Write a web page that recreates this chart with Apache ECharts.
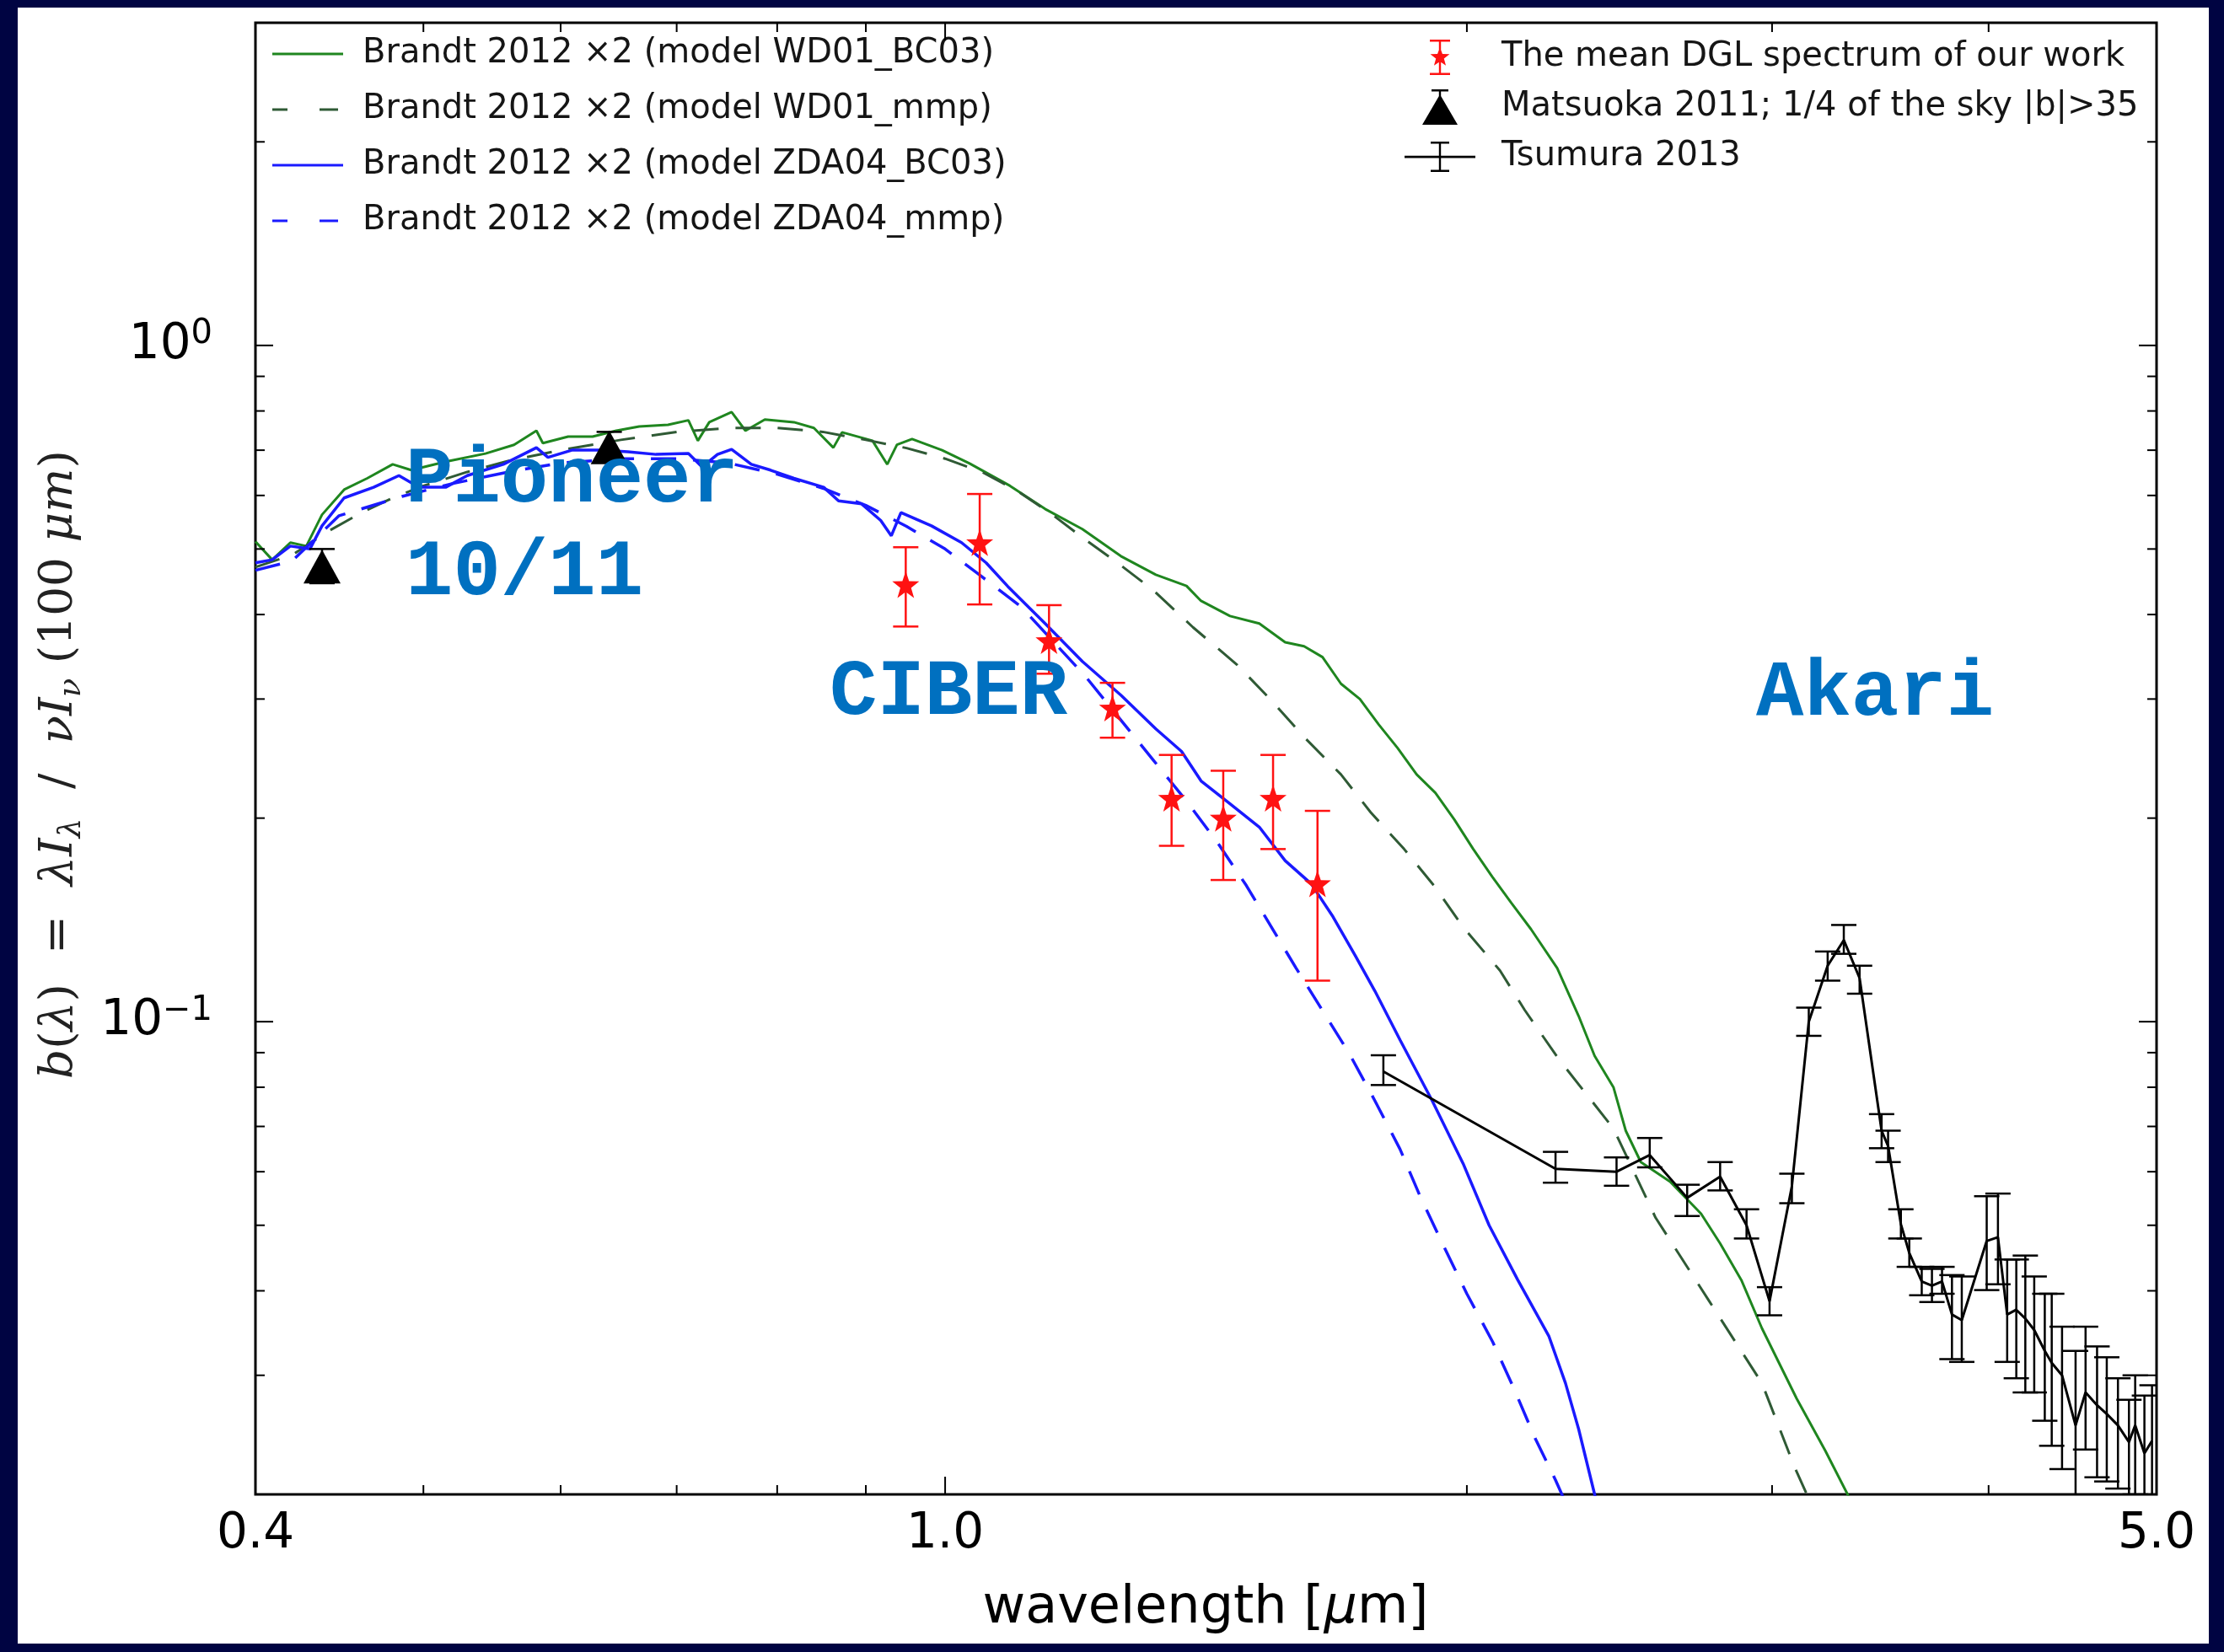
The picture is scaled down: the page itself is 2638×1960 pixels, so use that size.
<!DOCTYPE html>
<html>
<head>
<meta charset="utf-8">
<script src="https://cdn.jsdelivr.net/npm/echarts@6/dist/echarts.min.js"></script>
<style>
  html, body { margin: 0; padding: 0; background: #000442; }
  #paper { position: absolute; left: 21px; top: 9px; width: 2599px; height: 1941px; background: #ffffff; }
  #chart { position: absolute; left: 0; top: 0; width: 2638px; height: 1960px; }
</style>
</head>
<body>
<div id="paper"></div>
<div id="chart"></div>
<script>
// ---- Model spectra, Brandt 2012 x2 (wavelength in micron, b(lambda)) ----
const wd01Bc03Wave = [0.400,0.409,0.419,0.428,0.437,0.450,0.464,0.480,0.492,0.515,0.543,0.564,0.581,0.586,0.606,0.626,0.646,0.666,0.692,0.711,0.720,0.731,0.753,0.767,0.787,0.818,0.840,0.862,0.872,0.908,0.926,0.938,0.957,0.996,1.033,1.090,1.142,1.200,1.263,1.323,1.378,1.405,1.460,1.518,1.571,1.611,1.651,1.692,1.735,1.779,1.824,1.871,1.918,1.967,2.017,2.068,2.121,2.178,2.255,2.320,2.370,2.430,2.470,2.520,2.620,2.730,2.800,2.880,2.960,3.100,3.220,3.320,3.400];
const wd01Bc03Val  = [0.513,0.482,0.511,0.505,0.562,0.612,0.636,0.667,0.654,0.673,0.692,0.713,0.748,0.717,0.733,0.733,0.748,0.759,0.763,0.775,0.723,0.770,0.797,0.748,0.777,0.770,0.755,0.706,0.744,0.723,0.667,0.713,0.727,0.700,0.669,0.620,0.573,0.535,0.488,0.458,0.441,0.419,0.398,0.388,0.364,0.359,0.346,0.316,0.300,0.275,0.254,0.232,0.218,0.199,0.180,0.164,0.150,0.137,0.120,0.102,0.089,0.080,0.069,0.062,0.058,0.052,0.047,0.0415,0.0352,0.0277,0.0232,0.0199,0.0175];

const wd01MmpWave = [0.400,0.420,0.440,0.460,0.480,0.500,0.530,0.560,0.600,0.650,0.700,0.750,0.800,0.850,0.900,0.950,1.000,1.050,1.100,1.150,1.200,1.260,1.318,1.390,1.474,1.540,1.610,1.692,1.760,1.840,1.918,1.990,2.090,2.160,2.260,2.430,2.570,2.760,2.960,3.090,3.200];
const wd01MmpVal  = [0.470,0.490,0.530,0.565,0.595,0.620,0.650,0.675,0.700,0.725,0.745,0.755,0.755,0.745,0.725,0.705,0.680,0.650,0.610,0.565,0.520,0.475,0.435,0.383,0.337,0.300,0.264,0.232,0.204,0.180,0.158,0.138,0.119,0.104,0.088,0.0695,0.0513,0.0386,0.0292,0.0220,0.0180];

const zda04Bc03Wave = [0.400,0.409,0.419,0.430,0.437,0.450,0.468,0.484,0.497,0.515,0.530,0.556,0.581,0.590,0.609,0.632,0.656,0.681,0.711,0.724,0.739,0.753,0.773,0.793,0.818,0.851,0.868,0.895,0.918,0.931,0.943,0.982,1.022,1.056,1.087,1.142,1.200,1.263,1.323,1.369,1.405,1.460,1.518,1.571,1.626,1.674,1.725,1.770,1.830,1.910,1.990,2.060,2.140,2.230,2.280,2.320,2.370,2.400];
const zda04Bc03Val  = [0.477,0.482,0.505,0.500,0.541,0.595,0.617,0.642,0.617,0.617,0.642,0.667,0.706,0.683,0.700,0.700,0.696,0.690,0.692,0.661,0.690,0.702,0.667,0.654,0.636,0.617,0.589,0.583,0.551,0.523,0.566,0.541,0.511,0.477,0.440,0.388,0.341,0.304,0.271,0.251,0.227,0.210,0.194,0.173,0.160,0.143,0.125,0.111,0.094,0.0764,0.0617,0.0500,0.0415,0.0343,0.0292,0.0250,0.0200,0.0180];

const zda04MmpWave = [0.400,0.420,0.447,0.486,0.520,0.560,0.600,0.650,0.700,0.750,0.800,0.850,0.900,0.950,1.000,1.050,1.107,1.205,1.318,1.378,1.436,1.492,1.548,1.594,1.710,1.770,1.830,1.880,1.940,2.000,2.070,2.130,2.190,2.250,2.300];
const zda04MmpVal  = [0.465,0.480,0.560,0.598,0.625,0.650,0.670,0.680,0.680,0.670,0.645,0.615,0.580,0.540,0.500,0.455,0.410,0.324,0.244,0.212,0.184,0.159,0.136,0.120,0.0899,0.0764,0.0648,0.0551,0.0465,0.0396,0.0336,0.0286,0.0242,0.0210,0.0185];

// ---- Measurements ----
// Mean DGL spectrum (this work)
const dglWave = [0.949, 1.047, 1.148, 1.249, 1.351, 1.447, 1.546, 1.640];
const dglVal  = [0.443, 0.511, 0.366, 0.291, 0.214, 0.200, 0.214, 0.160];
const dglLow  = [0.384, 0.414, 0.327, 0.263, 0.182, 0.162, 0.180, 0.115];
const dglHigh = [0.503, 0.603, 0.413, 0.317, 0.248, 0.235, 0.248, 0.205];

// Matsuoka 2011, Pioneer 10/11
const matsuokaWave = [0.437, 0.640];
const matsuokaVal  = [0.471, 0.707];
const matsuokaLow  = [0.445, 0.672];
const matsuokaHigh = [0.500, 0.745];

// Tsumura 2013, AKARI
const tsumuraWave = [1.79,2.25,2.44,2.55,2.68,2.80,2.90,2.99,3.08,3.15,3.23,3.30,3.37,3.47,3.50,3.56,3.60,3.66,3.71,3.76,3.81,3.86,3.99,4.05,4.10,4.15,4.20,4.25,4.31,4.35,4.41,4.49,4.55,4.62,4.68,4.75,4.82,4.86,4.92,4.97];
const tsumuraVal  = [0.0844,0.0606,0.0600,0.0635,0.0549,0.0590,0.0500,0.0386,0.0571,0.1000,0.121,0.132,0.116,0.0690,0.0655,0.0502,0.0455,0.0413,0.0407,0.0413,0.0369,0.0362,0.0474,0.0480,0.0369,0.0375,0.0364,0.0350,0.0326,0.0313,0.0300,0.0253,0.0283,0.0271,0.0263,0.0253,0.0239,0.0253,0.0230,0.0240];
const tsumuraLow  = [0.0806,0.0578,0.0572,0.0609,0.0516,0.0563,0.0478,0.0368,0.0539,0.0953,0.115,0.126,0.110,0.0650,0.0620,0.0478,0.0434,0.0394,0.0385,0.0396,0.0317,0.0314,0.0401,0.0409,0.0314,0.0297,0.0283,0.0283,0.0257,0.0236,0.0218,0.0198,0.0233,0.0212,0.0209,0.0204,0.0190,0.0200,0.0180,0.0190];
const tsumuraHigh = [0.0892,0.0642,0.0630,0.0673,0.0574,0.0620,0.0528,0.0405,0.0596,0.1049,0.127,0.139,0.121,0.0730,0.0690,0.0528,0.0478,0.0434,0.0431,0.0434,0.0422,0.0420,0.0552,0.0557,0.0445,0.0445,0.0451,0.0420,0.0396,0.0396,0.0354,0.0326,0.0354,0.0331,0.0319,0.0297,0.0276,0.0300,0.0280,0.0290];

// ---- Axes ----
const xRange = [0.4, 5.0];
const yRange = [0.02, 3.0];
const xMajorTicks = [0.4, 1.0, 5.0];
const xTickLabels = ['0.4', '1.0', '5.0'];
const xMinorTicks = [0.5, 0.6, 0.7, 0.8, 0.9, 2, 3, 4];
const yMajorTicks = [0.1, 1];
const yTickExponents = ['\u22121', '0'];
const yMinorTicks = [0.02,0.03,0.04,0.05,0.06,0.07,0.08,0.09,0.2,0.3,0.4,0.5,0.6,0.7,0.8,0.9,2,3];

// ---- Names ----
const NAME_WD_BC = 'Brandt 2012 \u00d72 (model WD01_BC03)';
const NAME_WD_MMP = 'Brandt 2012 \u00d72 (model WD01_mmp)';
const NAME_ZDA_BC = 'Brandt 2012 \u00d72 (model ZDA04_BC03)';
const NAME_ZDA_MMP = 'Brandt 2012 \u00d72 (model ZDA04_mmp)';
const NAME_DGL = 'The mean DGL spectrum of our work';
const NAME_MAT = 'Matsuoka 2011; 1/4 of the sky |b|>35';
const NAME_TSU = 'Tsumura 2013';

const zip = (a, b) => a.slice(0, Math.min(a.length, b.length)).map((v, i) => [v, b[i]]);
const zip4 = (a, b, c, d) => a.map((v, i) => [v, b[i], c[i], d[i]]);

// ---- Shapes ----
function starPath(cx, cy, R, r) {
  let s = '';
  for (let k = 0; k < 10; k++) {
    const ang = -Math.PI / 2 + k * Math.PI / 5;
    const rad = k % 2 === 0 ? R : r;
    const x = (cx + rad * Math.cos(ang)).toFixed(2);
    const y = (cy + rad * Math.sin(ang)).toFixed(2);
    s += (k === 0 ? 'M' : 'L') + x + ' ' + y;
  }
  return s + 'Z';
}
const rectPath = (x1, y1, x2, y2) => `M${x1} ${y1}L${x2} ${y1}L${x2} ${y2}L${x1} ${y2}Z`;

// legend keys for the model curves (84 x 20 box)
const lineBox = 'M0 0M84 20';
const solidKey = 'path://' + lineBox + rectPath(0, 8.5, 84, 11.5);
const dashKey = 'path://' + lineBox + rectPath(0, 8.5, 18, 11.5) + rectPath(56, 8.5, 78, 11.5);

// legend keys for the measurements (110 x 44 box)
const iconBox = 'M0 0M110 44';
const dglIcon = 'path://' + iconBox + rectPath(40.8, 2, 43.2, 42) + rectPath(30, 1, 54, 3.4) + rectPath(30, 40.6, 54, 43) + starPath(42, 22, 12, 5);
const matIcon = 'path://' + iconBox + rectPath(32, 1, 52, 3.4) + rectPath(40.8, 2, 43.2, 9) + 'M42 7L63 43L21 43Z';
const tsuIcon = 'path://' + iconBox + rectPath(0, 20.8, 84, 23.4) + rectPath(40.8, 5, 43.2, 39) + rectPath(31, 4, 53, 6.4) + rectPath(31, 37.6, 53, 40);
const starSymbol = 'path://' + starPath(0, 0, 10, 4);

// Error bars: vertical segment with caps, mapped through the axes
function errorBars(color, capHalf, width) {
  return function (params, api) {
    const x = api.value(0);
    const pLo = api.coord([x, api.value(2)]);
    const pHi = api.coord([x, api.value(3)]);
    const st = { stroke: color, lineWidth: width };
    return {
      type: 'group',
      children: [
        { type: 'line', shape: { x1: pLo[0], y1: pLo[1], x2: pHi[0], y2: pHi[1] }, style: st },
        { type: 'line', shape: { x1: pLo[0] - capHalf, y1: pLo[1], x2: pLo[0] + capHalf, y2: pLo[1] }, style: st },
        { type: 'line', shape: { x1: pHi[0] - capHalf, y1: pHi[1], x2: pHi[0] + capHalf, y2: pHi[1] }, style: st }
      ]
    };
  };
}

// Inward ticks on all four sides plus tick labels
const MAJOR = 21, MINOR = 11;
function frameTicks(params, api) {
  const children = [];
  const pBL = api.coord([xRange[0], yRange[0]]);
  const pTR = api.coord([xRange[1], yRange[1]]);
  const xL = pBL[0], yB = pBL[1], xR = pTR[0], yT = pTR[1];
  const seg = (x1, y1, x2, y2) => ({ type: 'line', shape: { x1, y1, x2, y2 }, style: { stroke: '#000', lineWidth: 2 } });
  const xt = (v, len) => { const x = api.coord([v, yRange[0]])[0]; children.push(seg(x, yB, x, yB - len), seg(x, yT, x, yT + len)); };
  const yt = (v, len) => { const y = api.coord([xRange[0], v])[1]; children.push(seg(xL, y, xL + len, y), seg(xR, y, xR - len, y)); };
  xMajorTicks.forEach(v => xt(v, MAJOR));
  xMinorTicks.forEach(v => xt(v, MINOR));
  yMajorTicks.forEach(v => yt(v, MAJOR));
  yMinorTicks.forEach(v => yt(v, MINOR));
  xMajorTicks.forEach((v, i) => {
    const x = api.coord([v, yRange[0]])[0];
    children.push({ type: 'text', x: x, y: yB + 48, style: {
      text: xTickLabels[i], fontSize: 58, fontFamily: 'DejaVu Sans', fill: '#000',
      align: 'center', verticalAlign: 'middle' } });
  });
  yMajorTicks.forEach((v, i) => {
    const y = api.coord([xRange[0], v])[1];
    children.push({ type: 'text', x: xL - 51, y: y, style: {
      text: '{b|10}{s|' + yTickExponents[i] + '}',
      rich: {
        b: { fontSize: 58, fontFamily: 'DejaVu Sans', fill: '#000', lineHeight: 66 },
        s: { fontSize: 40, fontFamily: 'DejaVu Sans', fill: '#000', lineHeight: 40, verticalAlign: 'top' }
      },
      align: 'right', verticalAlign: 'middle' } });
  });
  return { type: 'group', children };
}

const GREEN = '#1f861f', GREEN_DASH = '#2f5a35', BLUE = '#1a1aff', RED = '#ff1212';
const DASH = [30, 20];

const option = {
  animation: false,
  backgroundColor: 'transparent',
  grid: { left: 303, right: 80, top: 27, bottom: 187, show: true, borderColor: '#000', borderWidth: 3, backgroundColor: 'transparent' },
  xAxis: { type: 'log', logBase: 10, min: xRange[0], max: xRange[1],
    axisLine: { show: false }, axisTick: { show: false }, axisLabel: { show: false }, splitLine: { show: false } },
  yAxis: { type: 'log', logBase: 10, min: yRange[0], max: yRange[1],
    axisLine: { show: false }, axisTick: { show: false }, axisLabel: { show: false }, splitLine: { show: false } },
  legend: [
    {
      data: [
        { name: NAME_WD_BC, icon: solidKey },
        { name: NAME_WD_MMP, icon: dashKey },
        { name: NAME_ZDA_BC, icon: solidKey },
        { name: NAME_ZDA_MMP, icon: dashKey }
      ],
      orient: 'vertical', left: 318, top: 39, itemWidth: 84, itemHeight: 20, itemGap: 26,
      selectedMode: false,
      itemStyle: { borderWidth: 0 },
      textStyle: { fontSize: 40, fontFamily: 'DejaVu Sans', color: '#151515', lineHeight: 40, padding: [0, 0, 0, 18] }
    },
    {
      data: [
        { name: NAME_DGL, icon: dglIcon },
        { name: NAME_MAT, icon: matIcon },
        { name: NAME_TSU, icon: tsuIcon }
      ],
      orient: 'vertical', left: 1661, top: 41, itemWidth: 110, itemHeight: 44, itemGap: 15,
      selectedMode: false,
      itemStyle: { borderWidth: 0 },
      textStyle: { fontSize: 40, fontFamily: 'DejaVu Sans', color: '#151515', lineHeight: 44 }
    }
  ],
  graphic: [
    { type: 'text', x: 1430, y: 1909, z: 10, style: {
        text: '{n|wavelength [}{i|\u03bc}{n|m]}',
        rich: { n: { fontSize: 62, fontFamily: 'DejaVu Sans', fill: '#000' },
                i: { fontSize: 62, fontFamily: 'DejaVu Sans', fontStyle: 'italic', fill: '#000' } },
        align: 'center', verticalAlign: 'middle', textAlign: 'center', textVerticalAlign: 'middle' } },
    { type: 'text', x: 71, y: 907, rotation: Math.PI / 2, z: 10, style: {
        text: '{i|b}{n|(}{i|\u03bb}{n|)  =  }{i|\u03bbI}{sub|\u03bb}{n|  /  }{i|\u03bdI}{sub|\u03bd}{n| (100 }{i|\u03bcm}{n|)}',
        rich: {
          n: { fontSize: 55, fontFamily: 'DejaVu Serif', fill: '#222', lineHeight: 66 },
          i: { fontSize: 55, fontFamily: 'DejaVu Serif', fontStyle: 'italic', fill: '#222', lineHeight: 66 },
          sub: { fontSize: 37, fontFamily: 'DejaVu Serif', fontStyle: 'italic', fill: '#222', lineHeight: 40, verticalAlign: 'bottom' }
        },
        align: 'center', verticalAlign: 'middle', textAlign: 'center', textVerticalAlign: 'middle' } },
    { type: 'text', x: 481, y: 571, z: 10, style: { text: 'Pioneer', fontSize: 94, fontWeight: 'bold', fontFamily: 'Liberation Mono', fill: '#0070c0', align: 'left', verticalAlign: 'middle', textAlign: 'left', textVerticalAlign: 'middle' } },
    { type: 'text', x: 481, y: 681, z: 10, style: { text: '10/11', fontSize: 94, fontWeight: 'bold', fontFamily: 'Liberation Mono', fill: '#0070c0', align: 'left', verticalAlign: 'middle', textAlign: 'left', textVerticalAlign: 'middle' } },
    { type: 'text', x: 984, y: 823, z: 10, style: { text: 'CIBER', fontSize: 94, fontWeight: 'bold', fontFamily: 'Liberation Mono', fill: '#0070c0', align: 'left', verticalAlign: 'middle', textAlign: 'left', textVerticalAlign: 'middle' } },
    { type: 'text', x: 2083, y: 824, z: 10, style: { text: 'Akari', fontSize: 94, fontWeight: 'bold', fontFamily: 'Liberation Mono', fill: '#0070c0', align: 'left', verticalAlign: 'middle', textAlign: 'left', textVerticalAlign: 'middle' } }
  ],
  series: [
    { name: NAME_WD_BC, type: 'line', data: zip(wd01Bc03Wave, wd01Bc03Val), showSymbol: false, symbol: 'none', z: 2,
      lineStyle: { color: GREEN, width: 3 }, itemStyle: { color: GREEN } },
    { name: NAME_WD_MMP, type: 'line', data: zip(wd01MmpWave, wd01MmpVal), showSymbol: false, symbol: 'none', z: 2,
      lineStyle: { color: GREEN_DASH, width: 3, type: DASH }, itemStyle: { color: GREEN_DASH } },
    { name: NAME_ZDA_BC, type: 'line', data: zip(zda04Bc03Wave, zda04Bc03Val), showSymbol: false, symbol: 'none', z: 2,
      lineStyle: { color: BLUE, width: 3.5 }, itemStyle: { color: BLUE } },
    { name: NAME_ZDA_MMP, type: 'line', data: zip(zda04MmpWave, zda04MmpVal), showSymbol: false, symbol: 'none', z: 2,
      lineStyle: { color: BLUE, width: 3.5, type: DASH }, itemStyle: { color: BLUE } },

    { name: NAME_TSU, type: 'line', data: zip(tsumuraWave, tsumuraVal), showSymbol: false, symbol: 'none', z: 3,
      lineStyle: { color: '#000', width: 3 }, itemStyle: { color: '#000' } },
    { name: NAME_TSU, type: 'custom', data: zip4(tsumuraWave, tsumuraVal, tsumuraLow, tsumuraHigh), clip: true, z: 3,
      encode: { x: 0, y: 1 }, itemStyle: { color: '#000' }, renderItem: errorBars('#000', 15, 2.5) },

    { name: NAME_DGL, type: 'scatter', data: zip(dglWave, dglVal), symbol: starSymbol, symbolSize: 32, z: 5,
      itemStyle: { color: RED, opacity: 1 } },
    { name: NAME_DGL, type: 'custom', data: zip4(dglWave, dglVal, dglLow, dglHigh), clip: true, z: 4,
      encode: { x: 0, y: 1 }, itemStyle: { color: RED }, renderItem: errorBars(RED, 15, 2.5) },

    { name: NAME_MAT, type: 'scatter', data: zip(matsuokaWave, matsuokaVal), symbol: 'triangle', symbolSize: [44, 40], z: 5,
      itemStyle: { color: '#000', opacity: 1 } },
    { name: NAME_MAT, type: 'custom', data: zip4(matsuokaWave, matsuokaVal, matsuokaLow, matsuokaHigh), clip: true, z: 4,
      encode: { x: 0, y: 1 }, itemStyle: { color: '#000' }, renderItem: errorBars('#000', 15, 2.5) },

    { name: 'frame-ticks', type: 'custom', data: [[1, 1]], clip: false, silent: true, z: 6,
      encode: { x: 0, y: 1 }, renderItem: frameTicks }
  ]
};

const chart = echarts.init(document.getElementById('chart'), null, { renderer: 'canvas' });
chart.setOption(option);
</script>
</body>
</html>
